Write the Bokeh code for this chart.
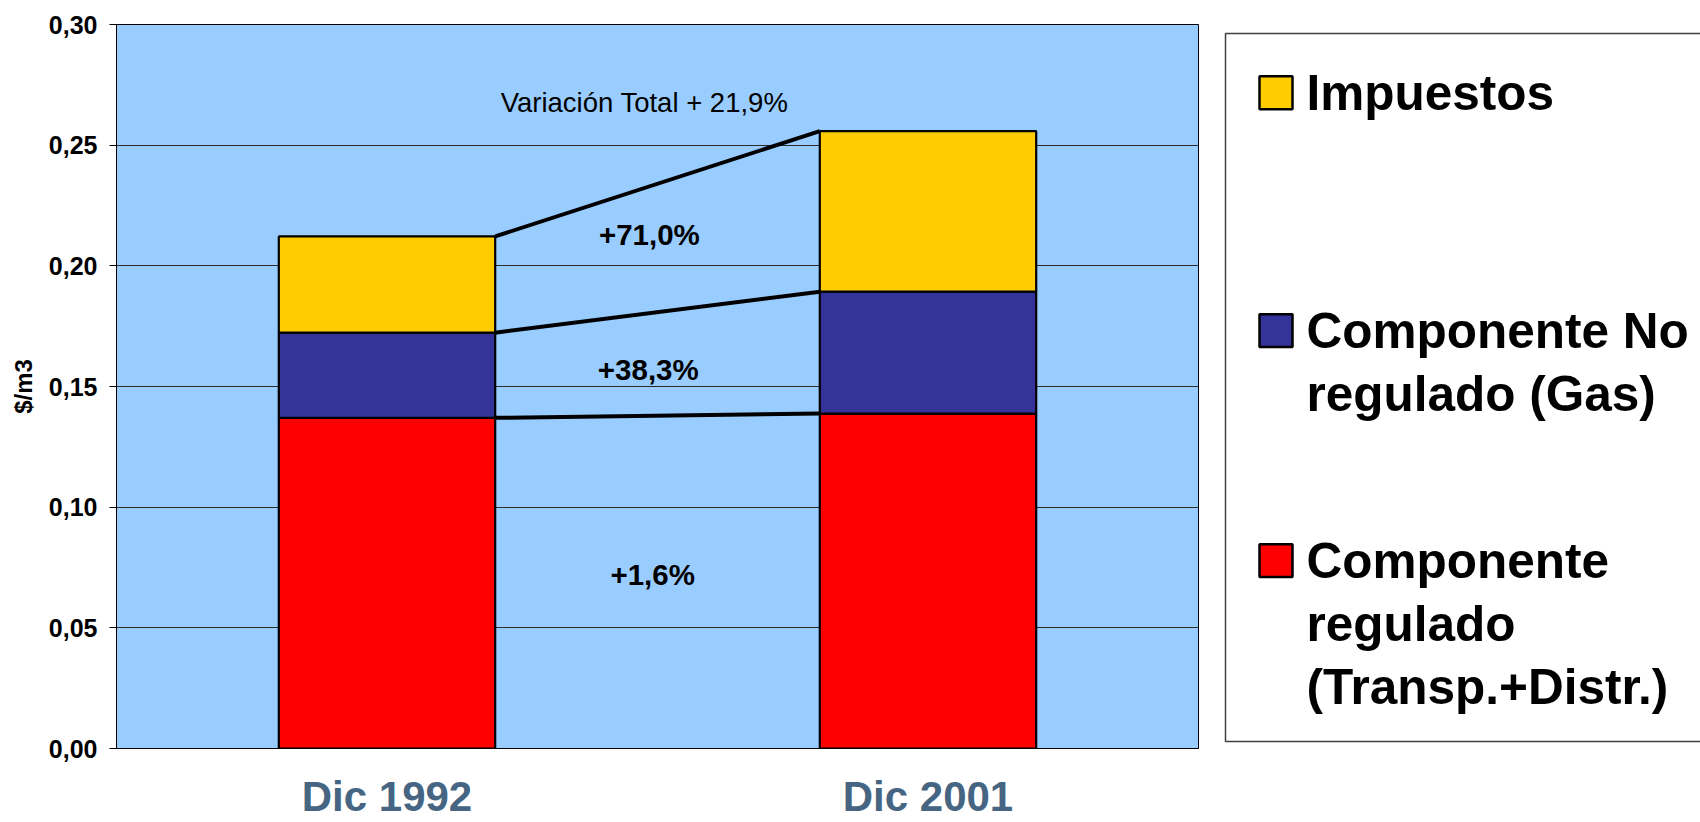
from bokeh.plotting import figure
from bokeh.models import ColumnDataSource, Range1d, FixedTicker, CustomJSTickFormatter
from bokeh.layouts import row
from bokeh.embed import file_html
from bokeh.resources import INLINE
from bokeh.core.properties import value

# ---------------- data ----------------
categories = ["Dic 1992", "Dic 2001"]
regulado = [0.1370, 0.1388]        # Componente regulado (Transp.+Distr.)
no_regulado = [0.0353, 0.0505]     # Componente No regulado (Gas)
impuestos = [0.0399, 0.0665]       # Impuestos
y_ticks = [0.00, 0.05, 0.10, 0.15, 0.20, 0.25, 0.30]
y_title = "$/m3"

series_keys = ["regulado", "no_regulado", "impuestos"]
series_colors = ["#FF0000", "#333399", "#FFCC00"]

# legend (top to bottom)
legend_colors = ["#FFCC00", "#333399", "#FF0000"]
legend_lines = [["Impuestos"],
                ["Componente No", "regulado (Gas)"],
                ["Componente", "regulado", "(Transp.+Distr.)"]]

# annotations (text centre positions in data units)
annot_text = ["Variación Total + 21,9%", "+71,0%", "+38,3%", "+1,6%"]
annot_x = [0.976, 0.985, 0.983, 0.991]
annot_y = [0.2677, 0.2128, 0.1572, 0.0720]
annot_size = ["27.5px", "29.5px", "29.5px", "29.5px"]
annot_style = ["normal", "bold", "bold", "bold"]

# ---------------- layout ----------------
FONT = "Liberation Sans"
W1, W2, H = 1215, 485, 822
TOP, BOTTOM = 24, 72
BAR_W = 0.4

xs = [i + 0.5 for i in range(len(categories))]
src = ColumnDataSource(dict(x=xs, regulado=regulado, no_regulado=no_regulado, impuestos=impuestos))

p = figure(width=W1, height=H, x_range=Range1d(0, len(categories)), y_range=Range1d(0, 0.30),
           output_backend="svg", toolbar_location=None,
           min_border_left=116, min_border_right=W1 - 1198,
           min_border_top=TOP, min_border_bottom=BOTTOM)
p.background_fill_color = "#99CCFF"
p.border_fill_color = "white"
p.outline_line_color = "black"
p.outline_line_width = 1
p.outline_line_alpha = 1.0

p.vbar_stack(series_keys, x="x", width=BAR_W, color=series_colors,
             line_color="black", line_width=2.2, source=src)

# connecting lines between cumulative levels
cum = []
run = [0.0] * len(categories)
for s in (regulado, no_regulado, impuestos):
    run = [a + b for a, b in zip(run, s)]
    cum.append(list(run))
p.segment(x0=[xs[0] + BAR_W / 2] * 3, y0=[c[0] for c in cum],
          x1=[xs[1] - BAR_W / 2] * 3, y1=[c[1] for c in cum],
          line_color="black", line_width=4)

asrc = ColumnDataSource(dict(x=annot_x, y=annot_y, text=annot_text, size=annot_size, style=annot_style))
p.text(x="x", y="y", text="text", source=asrc, text_font=value(FONT), text_font_size="size",
       text_font_style="style", text_color="black", text_align="center", text_baseline="alphabetic")

# y axis
p.yaxis.ticker = FixedTicker(ticks=y_ticks)
p.yaxis.formatter = CustomJSTickFormatter(code="return tick.toFixed(2).replace('.', ',');")
p.yaxis.major_label_text_font = FONT
p.yaxis.major_label_text_font_size = "25px"
p.yaxis.major_label_text_font_style = "bold"
p.yaxis.major_label_text_color = "black"
p.yaxis.major_tick_out = 7
p.yaxis.major_tick_in = 0
p.yaxis.major_tick_line_color = "black"
p.yaxis.minor_tick_line_color = None
p.yaxis.major_label_standoff = 12
p.yaxis.axis_line_color = "black"
p.yaxis.axis_label = y_title
p.yaxis.axis_label_text_font = FONT
p.yaxis.axis_label_text_font_size = "24px"
p.yaxis.axis_label_text_font_style = "bold"
p.yaxis.axis_label_text_color = "black"
p.yaxis.axis_label_standoff = 9

# x axis
p.xaxis.ticker = FixedTicker(ticks=xs)
p.xaxis.formatter = CustomJSTickFormatter(args=dict(cats=categories),
                                          code="return cats[Math.floor(tick)];")
p.xaxis.major_label_text_font = FONT
p.xaxis.major_label_text_font_size = "42px"
p.xaxis.major_label_text_font_style = "bold"
p.xaxis.major_label_text_color = "#466582"
p.xaxis.major_tick_line_color = None
p.xaxis.minor_tick_line_color = None
p.xaxis.major_tick_out = 0
p.xaxis.major_tick_in = 0
p.xaxis.major_label_standoff = 24
p.xaxis.axis_line_color = "black"

p.xgrid.visible = False
p.ygrid.grid_line_color = "#2b2b2b"
p.ygrid.grid_line_width = 1

# ---------------- legend panel (coordinates = page pixels) ----------------
p2 = figure(width=W2, height=H, x_range=Range1d(0, W2), y_range=Range1d(H - BOTTOM, TOP),
            output_backend="svg", toolbar_location=None,
            x_axis_location=None, y_axis_location=None,
            min_border_left=0, min_border_right=0,
            min_border_top=TOP, min_border_bottom=BOTTOM)
p2.outline_line_color = None
p2.grid.visible = False
p2.background_fill_color = "white"
p2.border_fill_color = "white"

p2.quad(left=10, right=W2 + 20, top=33, bottom=743, fill_color="white",
        line_color="#404040", line_width=1.5)

first_centers = [92.4, 331.0, 561.6]
LINE_STEP = 63
sw_x, sw_y, tx, ty, tt = [], [], [], [], []
for c0, lines in zip(first_centers, legend_lines):
    sw_x.append(60.5)
    sw_y.append(c0)
    for j, ln in enumerate(lines):
        tx.append(91)
        ty.append(c0 + j * LINE_STEP)
        tt.append(ln)
p2.rect(x=sw_x, y=sw_y, width=33, height=33, fill_color=legend_colors,
        line_color="black", line_width=2.5)
p2.text(x=tx, y=ty, text=tt, text_font=value(FONT), text_font_size="49.5px",
        text_font_style="bold", text_color="black", text_align="left", text_baseline="alphabetic")

layout = row(p, p2)
open("out.html", "w").write(file_html(layout, INLINE, title="Gas"))
